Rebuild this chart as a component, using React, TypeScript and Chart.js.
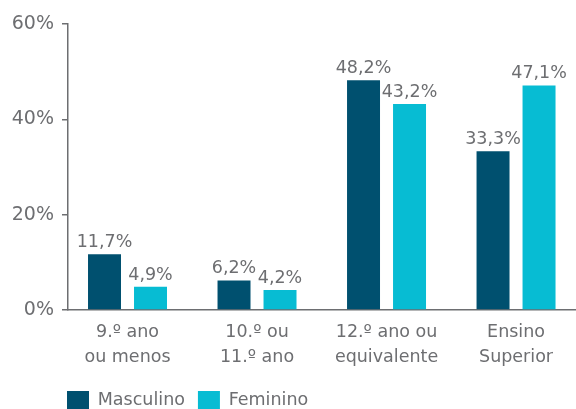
import React, { useEffect, useRef } from "react";
import { Chart, registerables } from "chart.js";

Chart.register(...registerables);

const CATEGORIES: string[][] = [
  ["9.º ano", "ou menos"],
  ["10.º ou", "11.º ano"],
  ["12.º ano ou", "equivalente"],
  ["Ensino", "Superior"],
];
const MASCULINO = [11.7, 6.2, 48.2, 33.3];
const FEMININO = [4.9, 4.2, 43.2, 47.1];
const SERIES_NAMES = ["Masculino", "Feminino"];
const Y_TICKS = [0, 20, 40, 60];

const DARK = "#00506f";
const CYAN = "#07bcd3";
const GRAY = "#6d6e71";
const FONT = "'DejaVu Sans', sans-serif";

const fmt = (v: number) => v.toFixed(1).replace(".", ",") + "%";

const valueLabels = {
  id: "valueLabels",
  afterDatasetsDraw(chart: any) {
    const ctx = chart.ctx;
    ctx.save();
    ctx.font = `17.5px ${FONT}`;
    ctx.fillStyle = GRAY;
    ctx.textAlign = "center";
    ctx.textBaseline = "alphabetic";
    chart.data.datasets.forEach((ds: any, di: number) => {
      const meta = chart.getDatasetMeta(di);
      meta.data.forEach((el: any, j: number) => {
        ctx.fillText(fmt(ds.data[j].y), el.x, el.y - 7);
      });
    });
    ctx.restore();
  },
};

const legendShift = {
  id: "legendShift",
  afterLayout(chart: any) {
    if (chart.legend) {
      chart.legend.left += 54;
    }
  },
};

export default function App() {
  const ref = useRef<HTMLCanvasElement | null>(null);
  useEffect(() => {
    if (!ref.current) return;
    const chart = new Chart(ref.current, {
      type: "bar",
      data: {
        datasets: [
          {
            label: SERIES_NAMES[0],
            data: MASCULINO.map((v, i) => ({ x: i, y: v })),
            backgroundColor: DARK,
          },
          {
            label: SERIES_NAMES[1],
            data: FEMININO.map((v, i) => ({ x: i, y: v })),
            backgroundColor: CYAN,
          },
        ],
      } as any,
      options: {
        animation: false,
        responsive: false,
        maintainAspectRatio: false,
        devicePixelRatio: 1,
        layout: { padding: { left: 0, top: 24, right: 0, bottom: 0 } },
        datasets: {
          bar: { categoryPercentage: 0.7104, barPercentage: 0.717 },
        } as any,
        scales: {
          x: {
            type: "linear",
            min: -0.4595,
            max: 3.463,
            offset: false,
            afterBuildTicks: (axis: any) => {
              axis.ticks = CATEGORIES.map((_, i) => ({ value: i }));
            },
            afterFit: (scale: any) => {
              scale.height = 68;
            },
            grid: { display: false, drawTicks: false, offset: false },
            border: { display: true, color: GRAY, width: 1.5 },
            ticks: {
              autoSkip: false,
              maxRotation: 0,
              minRotation: 0,
              padding: 10,
              color: GRAY,
              font: { family: FONT, size: 17.5, lineHeight: "25px" } as any,
              callback: (v: any) => CATEGORIES[Math.round(Number(v))] ?? "",
            },
          },
          y: {
            min: 0,
            max: 60,
            afterBuildTicks: (axis: any) => {
              axis.ticks = Y_TICKS.map((v) => ({ value: v }));
            },
            afterFit: (scale: any) => {
              scale.width = 68;
            },
            grid: {
              display: true,
              drawOnChartArea: false,
              drawTicks: true,
              tickLength: 6,
              tickColor: GRAY,
              lineWidth: 1.5,
            },
            border: { display: true, color: GRAY, width: 1.5 },
            ticks: {
              padding: 8,
              color: GRAY,
              font: { family: FONT, size: 19 },
              callback: (v: any) => v + "%",
            },
          },
        } as any,
        plugins: {
          tooltip: { enabled: false },
          legend: {
            position: "bottom",
            align: "start",
            labels: {
              boxWidth: 22,
              boxHeight: 18,
              padding: 13,
              color: GRAY,
              font: { family: FONT, size: 17.5 },
            },
          },
        },
      },
      plugins: [valueLabels, legendShift],
    });
    return () => chart.destroy();
  }, []);

  return (
    <div
      style={{
        position: "fixed",
        left: 0,
        top: 0,
        width: 576,
        height: 409,
        overflow: "hidden",
        background: "#fff",
      }}
    >
      <canvas ref={ref} width={576} height={419} style={{ display: "block", width: 576, height: 419 }} />
    </div>
  );
}
